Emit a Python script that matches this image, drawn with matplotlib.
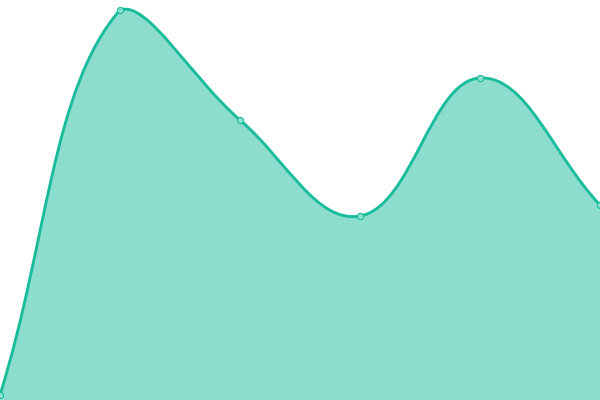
import numpy as np
import matplotlib
matplotlib.use("Agg")
import matplotlib.pyplot as plt
from matplotlib.path import Path
from matplotlib.patches import PathPatch

# data
labels = ["A", "B", "C", "D", "E", "F"]
values = [5, 390, 280, 184, 322, 195]

LINE = "#1abc9c"
FILL = (26 / 255, 188 / 255, 156 / 255, 0.5)
TENSION = 0.4


def spline_controls(pts, t, lo, hi):
    # cardinal spline control points in display coords, capped to the plot area
    n = len(pts)
    prev_cp = [None] * n
    next_cp = [None] * n
    for i in range(n):
        p0 = pts[max(i - 1, 0)]
        p1 = pts[i]
        p2 = pts[min(i + 1, n - 1)]
        d01 = np.hypot(*(p1 - p0))
        d12 = np.hypot(*(p2 - p1))
        tot = d01 + d12
        s01 = d01 / tot if tot else 0
        s12 = d12 / tot if tot else 0
        prev_cp[i] = np.clip(p1 - t * s01 * (p2 - p0), lo, hi)
        next_cp[i] = np.clip(p1 + t * s12 * (p2 - p0), lo, hi)
    return prev_cp, next_cp


fig = plt.figure(figsize=(6, 4), dpi=100)
ax = fig.add_axes([0, 0, 1, 1])
x = np.arange(len(values))
ax.set_xlim(0, len(values) - 1)
ax.set_ylim(0, 400)
ax.axis("off")

bbox = ax.bbox
disp = ax.transData.transform(np.column_stack([x, values]))
pc, nc = spline_controls(disp, TENSION, [bbox.x0, bbox.y0], [bbox.x1, bbox.y1])
inv = ax.transData.inverted()

verts = [disp[0]]
codes = [Path.MOVETO]
for i in range(len(disp) - 1):
    verts += [nc[i], pc[i + 1], disp[i + 1]]
    codes += [Path.CURVE4] * 3
verts = inv.transform(np.array(verts))

line_path = Path(verts, codes)
fill_verts = np.vstack([verts, [[x[-1], 0], [x[0], 0], verts[0]]])
fill_codes = codes + [Path.LINETO, Path.LINETO, Path.CLOSEPOLY]
ax.add_patch(PathPatch(Path(fill_verts, fill_codes), facecolor=FILL, edgecolor="none"))
ax.add_patch(PathPatch(line_path, facecolor="none", edgecolor=LINE, linewidth=2.1))

ax.scatter(x, values, s=20, facecolor="#8ae0cf", edgecolor=LINE, linewidth=0.8,
           zorder=5, clip_on=False)

fig.savefig("out.png", dpi=100)
